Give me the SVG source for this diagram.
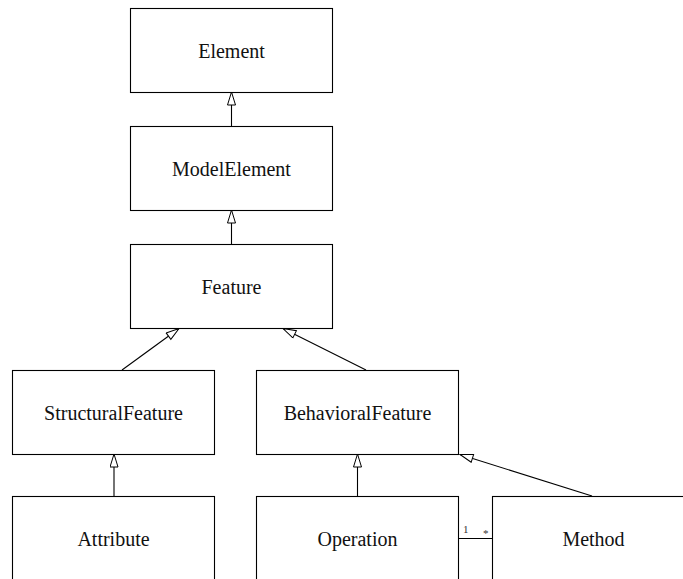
<svg xmlns="http://www.w3.org/2000/svg" width="683" height="579" viewBox="0 0 683 579">
<style>
  .box { fill: #fff; stroke: #000; stroke-width: 1.1; }
  .lbl { font-family: "Liberation Serif", "Times New Roman", serif; font-size: 20px; fill: #111; text-anchor: middle; }
  .mult { font-family: "Liberation Serif", "Times New Roman", serif; font-size: 11px; fill: #333; }
  .edge { stroke: #000; stroke-width: 1.1; fill: none; }
  .gen { marker-end: url(#tri); }
</style>
<defs>
  <marker id="tri" markerUnits="userSpaceOnUse" markerWidth="16" markerHeight="10" refX="14" refY="4.5" orient="auto">
    <path d="M1,0.5 L14,4.5 L1,8.5 Z" fill="#fff" stroke="#000" stroke-width="1"/>
  </marker>
</defs>
<rect width="683" height="579" fill="#fff"/>
<g id="connectors">
  <line class="edge gen" x1="231.5" y1="126" x2="231.5" y2="92"/>
  <line class="edge gen" x1="231.5" y1="244" x2="231.5" y2="210"/>
  <line class="edge gen" x1="122" y1="370" x2="179" y2="328.5"/>
  <line class="edge gen" x1="366" y1="370" x2="283" y2="328.5"/>
  <line class="edge gen" x1="114" y1="496" x2="114" y2="454"/>
  <line class="edge gen" x1="357.5" y1="496" x2="357.5" y2="454"/>
  <line class="edge gen" x1="592" y1="496" x2="460" y2="454.5"/>
  <line class="edge" x1="459" y1="538.5" x2="492" y2="538.5"/>
  <text class="mult" x="463" y="533">1</text>
  <text class="mult" x="483" y="537">*</text>
</g>
<g id="Element">
  <rect class="box" x="130.5" y="8.5" width="202" height="84"/>
  <text class="lbl" x="231.5" y="58">Element</text>
</g>
<g id="ModelElement">
  <rect class="box" x="130.5" y="126.5" width="202" height="84"/>
  <text class="lbl" x="231.5" y="176">ModelElement</text>
</g>
<g id="Feature">
  <rect class="box" x="130.5" y="244.5" width="202" height="84"/>
  <text class="lbl" x="231.5" y="294">Feature</text>
</g>
<g id="StructuralFeature">
  <rect class="box" x="12.5" y="370.5" width="202" height="84"/>
  <text class="lbl" x="113.5" y="420">StructuralFeature</text>
</g>
<g id="BehavioralFeature">
  <rect class="box" x="256.5" y="370.5" width="202" height="84"/>
  <text class="lbl" x="357.5" y="420">BehavioralFeature</text>
</g>
<g id="Attribute">
  <rect class="box" x="12.5" y="496.5" width="202" height="90"/>
  <text class="lbl" x="113.5" y="546">Attribute</text>
</g>
<g id="Operation">
  <rect class="box" x="256.5" y="496.5" width="202" height="90"/>
  <text class="lbl" x="357.5" y="546">Operation</text>
</g>
<g id="Method">
  <rect class="box" x="492.5" y="496.5" width="202" height="90"/>
  <text class="lbl" x="593.5" y="546">Method</text>
</g>
</svg>
